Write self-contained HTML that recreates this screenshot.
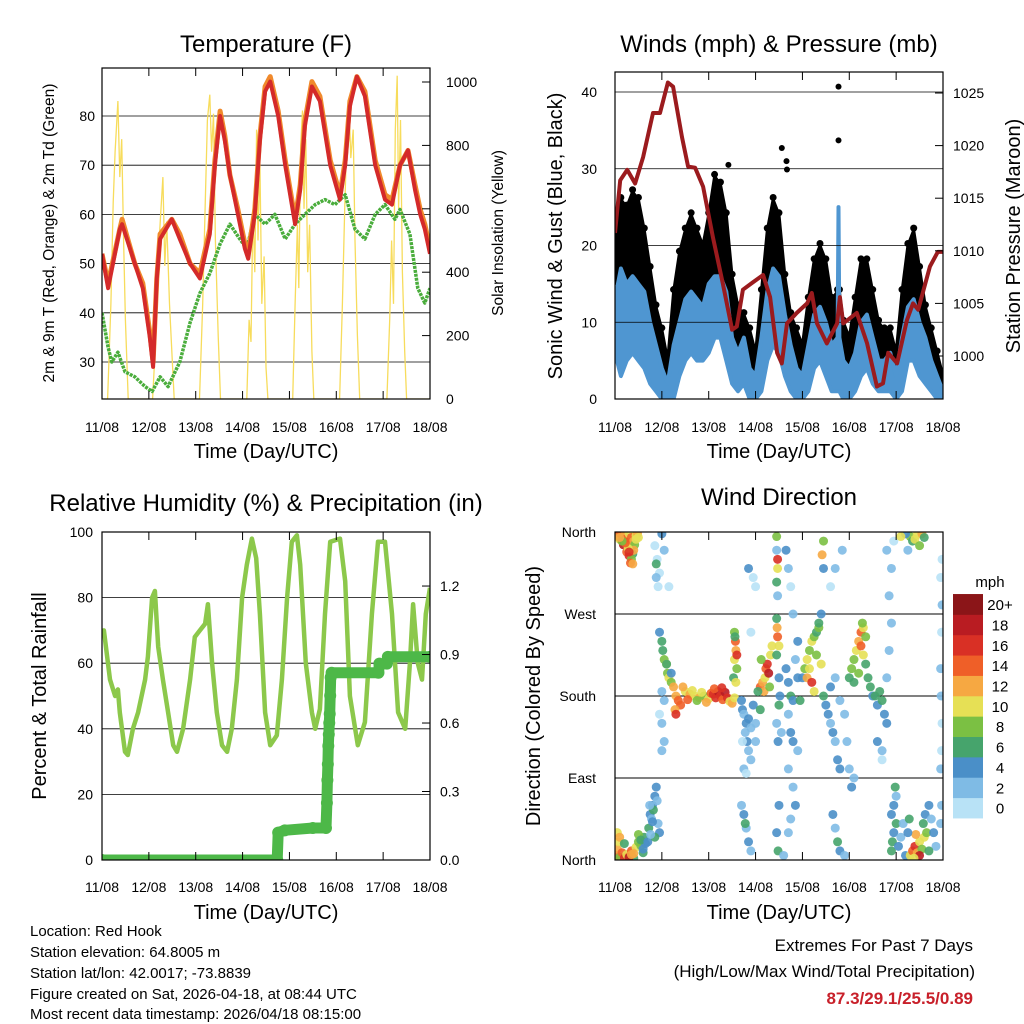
<!DOCTYPE html>
<html><head><meta charset="utf-8"><title>Weather Station Charts</title>
<style>
html,body{margin:0;padding:0;background:#fff;}
svg{display:block;font-family:"Liberation Sans",Arial,sans-serif;}
</style></head>
<body>
<svg id="root" width="1024" height="1024" viewBox="0 0 1024 1024" xmlns="http://www.w3.org/2000/svg">
<defs>
<clipPath id="c1"><rect x="102" y="68" width="328" height="331"/></clipPath>
<clipPath id="c2"><rect x="615" y="72" width="328" height="327"/></clipPath>
<clipPath id="c3"><rect x="102" y="532" width="328" height="328"/></clipPath>
<clipPath id="c4"><rect x="615" y="532" width="328" height="328"/></clipPath>
</defs>
<text x="266" y="52" font-size="24" text-anchor="middle">Temperature (F)</text>
<text x="779" y="52" font-size="24" text-anchor="middle">Winds (mph) &amp; Pressure (mb)</text>
<text x="266" y="511" font-size="24" text-anchor="middle">Relative Humidity (%) &amp; Precipitation (in)</text>
<text x="779" y="505" font-size="24" text-anchor="middle">Wind Direction</text>
<text x="266" y="458" font-size="20" text-anchor="middle">Time (Day/UTC)</text>
<text x="779" y="458" font-size="20" text-anchor="middle">Time (Day/UTC)</text>
<text x="266" y="919" font-size="20" text-anchor="middle">Time (Day/UTC)</text>
<text x="779" y="919" font-size="20" text-anchor="middle">Time (Day/UTC)</text>
<text transform="translate(54,233) rotate(-90)" font-size="15.5" text-anchor="middle">2m &amp; 9m T (Red, Orange) &amp; 2m Td (Green)</text>
<text transform="translate(503,233) rotate(-90)" font-size="15.5" text-anchor="middle">Solar Insolation (Yellow)</text>
<text transform="translate(562,236) rotate(-90)" font-size="20" text-anchor="middle">Sonic Wind &amp; Gust (Blue, Black)</text>
<text transform="translate(1020,236) rotate(-90)" font-size="20" text-anchor="middle">Station Pressure (Maroon)</text>
<text transform="translate(46,696) rotate(-90)" font-size="20" text-anchor="middle">Percent &amp; Total Rainfall</text>
<text transform="translate(540,696) rotate(-90)" font-size="20" text-anchor="middle">Direction (Colored By Speed)</text>
<g font-size="15">
<text x="30" y="936">Location: Red Hook</text>
<text x="30" y="957">Station elevation: 64.8005 m</text>
<text x="30" y="978">Station lat/lon: 42.0017; -73.8839</text>
<text x="30" y="999">Figure created on Sat, 2026-04-18, at 08:44 UTC</text>
<text x="30" y="1019">Most recent data timestamp: 2026/04/18 08:15:00</text>
</g>
<text x="973" y="951" font-size="17" text-anchor="end">Extremes For Past 7 Days</text>
<text x="975" y="977" font-size="17" text-anchor="end">(High/Low/Max Wind/Total Precipitation)</text>
<text x="973" y="1004" font-size="17" font-weight="bold" fill="#c8202a" text-anchor="end">87.3/29.1/25.5/0.89</text>
<g id="layer"></g>
</svg>
<script>
const dayLabels = ["11/08","12/08","13/08","14/08","15/08","16/08","17/08","18/08"];
const tempT = [0,0.13,0.38,0.43,0.70,0.87,1.02,1.09,1.17,1.24,1.49,1.66,1.88,2.09,2.30,2.41,2.52,2.62,2.73,2.90,3.05,3.12,3.26,3.37,3.48,3.59,3.76,3.91,4.05,4.12,4.23,4.33,4.48,4.65,4.87,5.08,5.19,5.29,5.44,5.61,5.83,6.04,6.19,6.36,6.53,6.68,6.79,6.89,7.00];
const temp2m = [52,45,57,58,50,45,35,29,47,55,59,55,50,47,56,70,80,75,68,60,53,51,60,75,85,87,80,70,62,58,65,78,86,83,70,63,70,82,88,84,70,63,62,70,73,65,60,57,52];
const temp9m = [52,46,57,59,50,46,36,30,47,56,59,56,50,48,57,71,81,76,68,61,54,52,61,76,86,88,81,71,63,59,66,79,87,84,71,64,71,83,88,85,71,64,63,70,73,66,61,58,53];
const dewT = [0,0.13,0.21,0.34,0.49,0.70,0.92,1.07,1.24,1.41,1.56,1.66,1.88,2.09,2.30,2.52,2.73,2.94,3.09,3.26,3.48,3.69,3.91,4.12,4.33,4.55,4.76,4.97,5.19,5.40,5.61,5.83,6.04,6.25,6.36,6.57,6.74,6.89,7.00];
const dewV = [40,33,30,32,28,27,25,24,27,25,28,30,38,44,48,54,58,55,53,60,58,60,55,58,60,62,63,62,64,57,55,60,62,59,61,56,45,42,45];
const solarT = [0,0.12,0.19,0.24,0.28,0.34,0.38,0.42,0.46,0.50,0.56,1.08,1.15,1.20,1.26,1.30,1.34,1.38,1.44,1.50,1.54,2.08,2.15,2.20,2.25,2.30,2.34,2.38,2.42,2.48,2.53,3.09,3.14,3.18,3.22,3.26,3.30,3.33,3.37,3.41,3.46,3.50,3.54,4.07,4.12,4.17,4.20,4.24,4.28,4.31,4.35,4.39,4.43,4.48,4.52,5.07,5.13,5.18,5.22,5.27,5.31,5.36,5.40,5.45,5.50,6.08,6.14,6.18,6.22,6.26,6.30,6.33,6.37,6.41,6.46,6.50,7.00];
const solarV = [0,0,300,620,780,940,700,820,500,250,0,0,200,450,600,700,420,560,300,120,0,0,300,600,880,960,780,900,500,200,0,0,250,180,600,400,850,500,750,300,450,100,0,0,300,550,350,800,910,600,820,400,550,150,0,0,300,600,800,943,760,850,500,200,0,0,250,500,300,850,1020,600,880,400,150,0,0];
const windT = [0,0.125,0.25,0.375,0.5,0.625,0.75,0.875,1.0,1.125,1.25,1.375,1.5,1.625,1.75,1.875,2.0,2.125,2.25,2.375,2.5,2.625,2.75,2.875,3.0,3.125,3.25,3.375,3.5,3.625,3.75,3.875,4.0,4.125,4.25,4.375,4.5,4.625,4.75,4.77,4.79,4.875,5.0,5.125,5.25,5.375,5.5,5.625,5.75,5.875,6.0,6.125,6.25,6.375,6.5,6.625,6.75,6.875,7.0];
const windHi = [13,17,15,16,15,14,10,7,4,2,7,10,13,14,13,12,15,16,16,14,8,6,8,4,3,8,14,17,16,11,7,4,3,7,11,12,10,7,8,25,8,5,4,6,10,11,8,5,5,6,3,8,12,13,10,8,5,3,1];
const windLo = [6,3,5,6,5,4,2,1,0,0,0,3,5,6,5,5,6,8,8,5,2,1,2,0,0,1,5,7,6,3,1,0,0,1,4,5,3,1,1,1,1,0,0,1,3,4,2,1,1,1,0,1,5,5,3,2,1,0,0];
const gustHi = [24,26,25,27,26,22,17,12,9,5,14,19,22,24,22,20,24,29,28,24,16,12,11,9,6,14,22,26,24,16,11,9,7,13,18,20,18,13,14,14,14,10,8,13,18,18,14,10,9,9,6,14,20,22,17,12,9,6,3];
const gustLo = [15,16,15,15,14,12,8,4,2,1,3,9,12,14,12,11,12,15,14,10,6,4,4,2,1,5,12,15,13,7,4,2,1,5,9,10,8,4,3,3,3,2,1,4,8,8,5,3,3,3,1,4,10,11,7,5,3,1,0];
const gustOutT = [4.77,4.77,3.56,3.66,3.67,2.42];
const gustOutV = [40.7,33.7,32.7,31.0,29.9,30.5];
const presT = [0,0.11,0.26,0.43,0.60,0.81,0.96,1.13,1.24,1.43,1.56,1.71,1.88,2.09,2.30,2.50,2.60,2.73,2.94,3.16,3.31,3.46,3.56,3.67,3.88,4.10,4.20,4.31,4.52,4.74,4.80,4.87,5.16,5.38,5.59,5.72,5.83,6.02,6.23,6.36,6.47,6.72,6.89,7.00];
const presV = [1011.7,1016.7,1017.7,1016.4,1018.9,1023.1,1023.1,1026.0,1025.6,1020.8,1018.0,1017.9,1016.1,1011.3,1006.9,1002.5,1002.8,1006.3,1007.0,1007.7,1005.6,1000.3,999.3,1003.1,1004.1,1005.0,1006.0,1003.1,1001.2,1003.1,1005.6,1003.1,1004.1,1001.2,997.1,997.4,1000.3,999.3,1003.4,1005.0,1004.4,1008.5,1009.9,1009.9];
const rhT = [0,0.04,0.17,0.28,0.34,0.38,0.49,0.55,0.66,0.77,0.92,0.98,1.07,1.13,1.20,1.30,1.41,1.52,1.60,1.73,1.88,1.98,2.09,2.20,2.26,2.35,2.45,2.56,2.67,2.77,2.88,2.99,3.09,3.20,3.29,3.37,3.48,3.59,3.73,3.84,3.95,4.05,4.16,4.23,4.35,4.48,4.55,4.65,4.76,4.87,5.08,5.19,5.29,5.46,5.61,5.76,5.89,6.04,6.19,6.32,6.47,6.57,6.64,6.74,6.83,6.91,7.00];
const rhV = [68,70,55,50,52,45,33,32,40,45,55,62,80,82,65,55,45,35,33,40,55,68,70,72,78,60,45,35,33,40,55,80,90,98,92,75,45,35,38,55,80,97,99,90,60,45,40,46,75,97,98,85,50,35,42,75,97,97,75,45,40,60,78,60,55,75,83];
const precT = [0,3.74,3.76,3.9,4.5,4.78,4.80,4.81,4.82,4.83,4.84,4.85,4.86,4.87,4.88,4.90,5.9,5.92,6.08,6.1,7.0];
const precV = [0,0,0.12,0.13,0.14,0.14,0.25,0.35,0.42,0.50,0.55,0.60,0.64,0.72,0.80,0.82,0.82,0.86,0.86,0.89,0.89];
const wdT = [0.02,0.05,0.08,0.1,0.12,0.15,0.18,0.2,0.22,0.25,0.28,0.3,0.32,0.35,0.38,0.4,0.42,0.45,0.48,0.5,0.25,0.3,0.35,0.4,0.33,0.38,0.28,0.22,0.15,0.1,0.45,0.3,
0.02,0.05,0.08,0.1,0.15,0.2,0.25,0.3,0.35,0.4,0.45,0.5,0.55,0.6,0.62,0.65,0.05,0.1,0.3,0.4,0.5,0.55,0.6,0.35,0.2,
0.7,0.72,0.75,0.78,0.8,0.82,0.85,0.88,0.9,0.92,0.95,0.85,0.8,0.76,0.74,
0.85,0.9,0.95,0.88,0.92,1.0,1.05,1.15,0.88,
0.95,1.0,1.02,1.05,1.1,1.12,1.15,1.2,1.25,1.0,1.05,0.95,1.0,1.05,1.0,1.1,1.2,1.3,1.35,1.4,1.28,1.3,
1.5,1.6,1.7,1.8,1.9,2.0,2.05,2.1,2.15,2.2,2.25,2.3,2.35,2.4,2.45,1.55,1.65,1.75,1.85,1.95,2.5,2.55,1.45,2.12,2.28,
2.55,2.57,2.58,2.55,2.6,2.53,2.58,2.56,2.6,
2.7,2.72,2.75,2.8,2.78,2.82,2.85,2.9,2.75,2.8,2.85,2.95,3.0,3.1,2.7,2.75,2.8,2.85,2.9,2.78,2.9,2.72,3.0,3.0,2.85,2.95,2.9,
3.1,3.15,3.2,3.22,3.25,3.18,3.28,3.3,3.12,3.05,3.32,3.35,
3.45,3.45,3.47,3.47,3.45,3.47,3.45,3.46,3.47,3.5,3.45,3.5,3.5,3.45,3.48,3.5,3.45,3.48,3.55,3.52,
3.65,3.7,3.75,3.8,3.7,3.75,3.8,3.9,3.7,3.8,3.85,3.75,3.7,3.95,3.9,3.65,3.7,3.75,3.8,3.85,3.9,3.6,
4.0,4.05,4.1,4.15,4.2,4.25,4.3,4.35,4.1,4.2,4.15,4.3,4.35,4.4,4.45,4.5,4.4,4.25,4.45,4.42,4.45,
4.55,4.6,4.65,4.7,4.75,4.8,4.6,4.7,4.8,4.9,4.95,4.65,4.7,4.75,4.8,4.6,4.7,4.85,4.9,
5.0,5.05,5.1,5.15,5.2,5.25,5.3,5.35,5.1,5.2,5.3,5.35,5.4,5.45,5.5,5.0,5.05,5.1,5.25,5.28,
5.55,5.6,5.65,5.7,5.75,5.8,5.6,5.7,5.8,5.85,5.9,5.85,5.9,5.95,5.8,5.7,
5.9,5.92,5.95,6.0,5.9,5.95,6.05,6.1,6.15,6.2,6.0,5.98,
6.3,6.35,6.4,6.45,6.5,6.55,6.6,6.65,6.42,6.5,6.38,6.58,6.62,6.7,6.75,6.8,6.85,6.7,6.25,6.28,
6.3,6.35,6.4,6.45,6.5,6.55,6.6,6.2,6.25,6.1,
6.95,6.97,6.98,6.96,6.95,6.97,6.98,6.95,6.98,6.95,6.97];
const wdD = [359,357,355,352,358,350,346,356,352,348,344,358,340,354,336,350,346,356,358,354,338,334,330,340,326,325,342,348,350,354,352,338,
5,12,20,3,8,2,6,4,10,2,14,20,16,8,25,18,30,25,3,7,28,22,12,6,18,
20,35,50,45,60,55,70,80,65,40,30,25,42,28,60,
345,330,315,310,300,358,340,300,325,
250,240,230,220,215,205,200,195,190,185,175,160,150,130,120,215,205,180,175,170,165,160,
185,182,180,178,180,177,183,182,178,185,180,176,184,178,174,176,186,175,184,173,172,178,190,188,189,
250,240,230,220,210,200,195,245,225,
175,165,160,150,140,130,120,110,100,95,155,170,150,165,60,50,35,20,10,40,145,130,130,300,320,310,250,
190,195,200,210,215,185,205,190,220,185,225,235,
355,340,330,320,305,290,265,255,245,235,225,200,170,150,130,60,30,10,140,180,
210,195,180,175,160,140,130,120,100,80,60,45,30,175,200,340,320,300,270,220,240,5,
200,210,220,230,240,245,250,255,200,195,210,225,260,270,180,170,215,185,350,335,320,
160,150,140,130,110,100,190,200,175,160,130,50,35,20,10,300,320,340,5,
200,210,220,230,240,250,255,245,195,205,225,215,200,190,180,100,80,90,235,260,
180,170,185,175,160,150,130,120,200,230,260,290,320,350,340,110,
10,20,30,40,50,60,15,25,40,5,70,80,
5,10,15,8,20,12,25,30,28,5,2,40,50,60,45,30,15,10,30,45,
355,350,352,357,345,358,354,358,340,355,
100,120,150,180,210,250,280,310,330,40,60];
const wdS = [14,16,12,10,15,14,18,12,14,16,12,10,13,14,6,12,8,10,12,11,15,16,9,13,14,12,11,15,8,13,10,17,
15,12,10,8,14,16,10,12,14,6,11,9,8,7,6,4,10,12,18,13,9,7,5,12,6,
4,6,4,3,5,7,4,5,3,2,4,6,4,3,2,
1,0,0,2,1,4,2,0,6,
4,6,6,8,10,8,10,8,12,2,2,0,2,2,2,6,4,12,14,14,12,16,
10,12,10,12,8,10,14,16,16,18,16,14,18,16,10,14,10,8,10,12,12,10,12,14,16,
8,14,12,10,8,6,10,6,16,
4,4,2,4,2,4,2,2,2,0,4,4,2,6,2,4,2,4,2,6,2,0,2,0,4,0,0,
14,12,10,14,16,12,18,8,8,6,10,10,
8,2,16,10,6,2,6,12,14,10,6,4,6,2,4,4,4,6,2,4,
4,4,6,4,2,4,4,2,2,2,4,2,2,6,4,4,2,0,2,2,4,2,
4,8,10,8,10,8,6,8,12,16,10,8,6,4,6,4,10,10,8,12,4,
4,2,4,2,4,4,4,2,2,2,2,4,2,6,4,0,2,2,2,
6,8,8,10,12,14,10,8,6,8,10,6,6,6,4,2,4,2,14,8,
6,4,6,6,4,4,4,2,2,2,2,2,2,0,2,0,
6,6,4,6,4,4,4,2,2,4,2,6,
10,14,16,12,10,8,10,8,12,18,10,6,4,4,2,4,2,6,4,6,
8,6,10,10,8,12,6,4,2,10,
2,0,0,2,2,0,2,0,0,2,2];
const speedColors = ["#b8e2f6","#7fbbe5","#4a8fc8","#46a46c","#7bc043","#e6e055","#f6a842","#ef5f28","#d93025","#b91c22","#8b1518"];
const speedLabels = ["0","2","4","6","8","10","12","14","16","18","20+"];

const DAY = 46.857;
const x1 = t => 102 + t*DAY;
const x2 = t => 615 + t*DAY;
const yT = v => 362 - (v-30)*4.92;
const yS = w => 399 - w*0.317;
const yW = v => 399 - v*7.675;
const yP = p => 356 - (p-1000)*10.52;
const yRH = r => 860 - r*3.28;
const yPr = v => 860 - v*228.3;
const yD = d => 860 - d*328/360;

const NS = "http://www.w3.org/2000/svg";
const layer = document.getElementById('layer');
function mk(tag, attrs, parent){
  const e = document.createElementNS(NS, tag);
  for (const k in attrs) e.setAttribute(k, attrs[k]);
  (parent||layer).appendChild(e);
  return e;
}
function linePath(ts, vs, xf, yf){
  return ts.map((t,i)=>(i?'L':'M')+xf(t).toFixed(1)+','+yf(vs[i]).toFixed(1)).join('');
}
function bandPath(ts, hi, lo, xf, yf){
  let d = ts.map((t,i)=>(i?'L':'M')+xf(t).toFixed(1)+','+yf(hi[i]).toFixed(1)).join('');
  for (let i=ts.length-1;i>=0;i--) d += 'L'+xf(ts[i]).toFixed(1)+','+yf(lo[i]).toFixed(1);
  return d+'Z';
}
function text(x,y,s,anchor,size){
  const e = mk('text',{x:x,y:y,'font-size':size||14,'text-anchor':anchor||'middle'});
  e.textContent = s;
  return e;
}

const g1 = mk('g',{'clip-path':'url(#c1)'});


[30,40,50,60,70,80].forEach(v=>{
  const l = mk('line',{x1:102,x2:430,y1:yT(v),y2:yT(v),stroke:'#000','stroke-width':0.8},g1);
  
  
});
const solar = mk('path',{d:linePath(solarT,solarV,x1,yS),fill:'none',stroke:'#f7dc5c','stroke-width':1.3},g1);


const dew = mk('path',{d:linePath(dewT,dewV,x1,yT),fill:'none',stroke:'#4aad3c','stroke-width':3.5,'stroke-dasharray':'3 1','stroke-linejoin':'round'},g1);


const t9 = mk('path',{d:linePath(tempT,temp9m,x1,yT),fill:'none',stroke:'#f08a2c','stroke-width':5,'stroke-linejoin':'round'},g1);


const t2 = mk('path',{d:linePath(tempT,temp2m,x1,yT),fill:'none',stroke:'#d42a2a','stroke-width':4,'stroke-linejoin':'round'},g1);


[30,40,50,60,70,80].forEach(v=>{
  const t = text(95,yT(v)+5,String(v),'end',14);
  
  
});
[0,200,400,600,800,1000].forEach(v=>{
  const t = text(446,yS(v)+5,String(v),'start',14);
  
  
  const tk = mk('line',{x1:422,x2:430,y1:yS(v),y2:yS(v),stroke:'#000'});
  
  
});

const g2 = mk('g',{'clip-path':'url(#c2)'});


const gustBand = mk('path',{d:bandPath(windT,gustHi,gustLo,x2,yW),fill:'#000',stroke:'#000','stroke-width':3,'stroke-linejoin':'round'},g2);


windT.forEach((t,i)=>{
  const c = mk('circle',{cx:x2(t),cy:yW(gustHi[i])-2,r:3.5,fill:'#000'},g2);
  
  
});
gustOutT.forEach((t,i)=>{
  const c = mk('circle',{cx:x2(t),cy:yW(gustOutV[i]),r:3,fill:'#000'},g2);
  
  
});
const windBand = mk('path',{d:bandPath(windT,windHi,windLo,x2,yW),fill:'#4f96d1',stroke:'#4f96d1','stroke-width':4,'stroke-linejoin':'round'},g2);


[0,10,20,30,40].forEach(v=>{
  const l = mk('line',{x1:615,x2:943,y1:yW(v),y2:yW(v),stroke:'#000','stroke-width':0.8},g2);
  
  
});
const pres = mk('path',{d:linePath(presT,presV,x2,yP),fill:'none',stroke:'#9b1b1e','stroke-width':4,'stroke-linejoin':'round'},g2);


[0,10,20,30,40].forEach(v=>{
  const t = text(597,yW(v)+5,String(v),'end',14);
  
  
});
[1000,1005,1010,1015,1020,1025].forEach(v=>{
  const t = text(953,yP(v)+5,String(v),'start',14);
  
  
  const tk = mk('line',{x1:935,x2:943,y1:yP(v),y2:yP(v),stroke:'#000'});
  
  
});

const g3 = mk('g',{'clip-path':'url(#c3)'});


[20,40,60,80].forEach(v=>{
  const l = mk('line',{x1:102,x2:430,y1:yRH(v),y2:yRH(v),stroke:'#000','stroke-width':0.8},g3);
  
  
});
const rh = mk('path',{d:linePath(rhT,rhV,x1,yRH),fill:'none',stroke:'#8cc84b','stroke-width':4.5,'stroke-linejoin':'round'},g3);


const pr = mk('path',{d:linePath(precT,precV,x1,yPr),fill:'none',stroke:'#4db848','stroke-width':11,'stroke-linecap':'round','stroke-linejoin':'round'},g3);


precT.forEach((t,i)=>{
  const c = mk('circle',{cx:x1(t),cy:yPr(precV[i]),r:6,fill:'#4db848'},g3);
  
  
});
[0,20,40,60,80,100].forEach(v=>{
  const t = text(93,yRH(v)+5,String(v),'end',14);
  
  
});
[0,0.3,0.6,0.9,1.2].forEach(v=>{
  const t = text(440,yPr(v)+5,v.toFixed(1),'start',14);
  
  
  const tk = mk('line',{x1:422,x2:430,y1:yPr(v),y2:yPr(v),stroke:'#000'});
  
  
});

const g4 = mk('g',{'clip-path':'url(#c4)'});


[90,180,270].forEach(v=>{
  const l = mk('line',{x1:615,x2:943,y1:yD(v),y2:yD(v),stroke:'#000','stroke-width':0.9},g4);
  
  
});
wdT.forEach((t,i)=>{
  const b = Math.min(10, Math.floor(wdS[i]/2));
  const c = mk('circle',{cx:x2(t),cy:yD(wdD[i]),r:4.5,fill:speedColors[b],'fill-opacity':0.9},g4);
  
  
});
["North","East","South","West","North"].forEach((s,i)=>{
  const t = text(596,yD(i*90)+5,s,'end',14);
  
  
});
const mph = text(990,587,'mph','middle',15);


speedLabels.forEach((s,i)=>{
  const y0 = 818 - (i+1)*20.36;
  const r = mk('rect',{x:953,y:y0,width:30,height:20.8,fill:speedColors[i]});
  
  
  const t = text(1000,y0+16,s,'middle',15);
  
  
});

const frames = [[102,68,328,331,x1,432],[615,72,328,327,x2,432],[102,532,328,328,x1,892],[615,532,328,328,x2,892]];
frames.forEach(f=>{
  const r = mk('rect',{x:f[0],y:f[1],width:f[2],height:f[3],fill:'none',stroke:'#000','stroke-width':1.2});
  
  
  dayLabels.forEach((s,i)=>{
    const x = f[4](i);
    const tb = mk('line',{x1:x,x2:x,y1:f[1]+f[3],y2:f[1]+f[3]-8,stroke:'#000'});
    
    
    const tt = mk('line',{x1:x,x2:x,y1:f[1],y2:f[1]+8,stroke:'#000'});
    
    
    const t = text(x,f[5],s,'middle',14);
    
    
  });
});
</script>
</body></html>
